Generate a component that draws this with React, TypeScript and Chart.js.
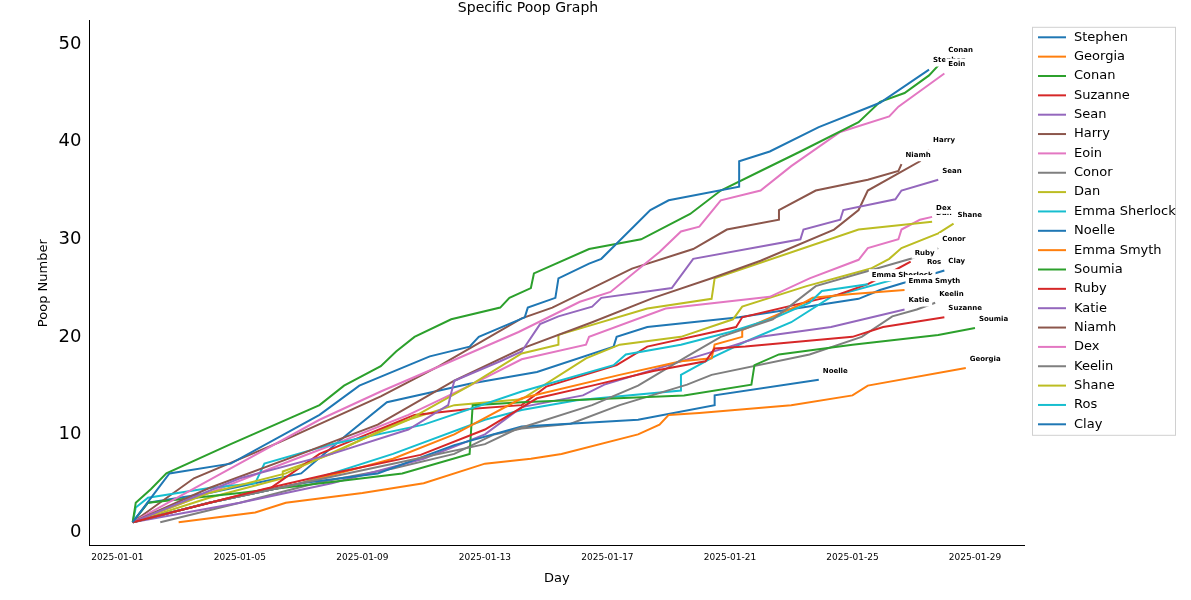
import { useEffect, useRef } from "react";
import { Chart, registerables } from "chart.js";

Chart.register(...registerables);

// [day since 2025-01-01, poop number]
const stephen = [[0.5,1],[1.7,6],[3.7,7],[6.6,12],[7.9,15],[10.2,18],[11.5,19],[11.8,20],[13.3,22],[13.4,23],[14.3,24],[14.4,26],[15.4,27.5],[15.8,28],[17.4,33],[18,34],[20.3,35.4],[20.3,38],[21.3,39],[22.9,41.5],[24.9,44],[26.5,47.4]];
const georgia = [[2,1],[4.5,2],[5.5,3],[8,4],[10,5],[12,7],[13.5,7.5],[14.5,8],[17,10],[17.7,11],[18,12],[19,12.2],[22,13],[24,14],[24.5,15],[27.7,16.8]];
const conan = [[0.5,1],[0.6,3],[1.1,4.4],[1.6,6],[3.7,9],[6.6,13],[7.4,15],[8.6,17],[9.1,18.5],[9.7,20],[10.9,21.8],[12.5,23],[12.8,24],[13.5,25],[13.6,26.5],[15.4,29],[17.1,30],[18.7,32.6],[19.7,35],[21,37],[22.3,39],[24.2,42],[24.9,44.1],[25.7,45],[26.5,46.8],[27,48.5]];
const suzanne = [[0.5,1],[4.8,4.4],[7,6],[9.9,7.9],[12,10.5],[13.7,13.7],[15.5,15],[17.5,16.5],[19.2,17.5],[19.5,18.8],[20.5,19],[24,20],[25,21],[27,22]];
const sean = [[0.5,1],[4,5.5],[7,8],[9.5,10.5],[10.8,13],[11,15.5],[12.5,17.5],[13.2,18.5],[13.8,21.3],[14.4,22.1],[15.5,23.1],[15.8,24],[18.1,25],[18.8,28],[22.3,30],[22.4,31],[23.6,32],[23.7,33],[25.4,34.1],[25.6,35],[26.8,36.1]];
const harry = [[0.5,1],[3,4.5],[6,8],[8.5,11],[11,15.5],[13.2,18.8],[15.5,21.5],[17.5,24],[19.4,26],[21,27.8],[23.4,31],[24.2,33],[24.5,35],[26.2,38],[26.5,39.2]];
const eoin = [[0.5,1],[3.4,6],[6.6,11.5],[8.6,14.4],[10.9,17.5],[13.1,20.5],[15.1,23.6],[16.1,24.6],[17.7,28.7],[18.4,30.8],[19,31.3],[19.7,34],[21,35],[22,37.5],[23.6,41],[25.2,42.6],[25.5,43.6],[27,47]];
const conor = [[0.5,1],[3,3],[6,5],[9,7],[12,9],[13,10.5],[15.5,13],[17,15],[18.6,18],[19.7,20],[21.4,21.8],[22.8,25.2],[25.9,28],[26.8,29.1]];
const dan = [[0.5,1],[3,4],[5.5,6],[8,9.5],[9.5,11.5],[11.5,15],[13.2,18.3],[14.4,19.2],[14.4,20.2],[17.3,22.9],[19.4,23.9],[19.5,26],[24.2,31],[26.6,31.8]];
const emmaSherlock = [[0.5,1],[0.6,2.5],[1,3.5],[3,4.5],[4.5,5],[4.8,7],[7,9],[10,11],[13.2,14.4],[16.2,17.1],[16.6,18.2],[18.4,19.2],[20,20.5],[21.5,22],[22.6,23.5],[23,24.7],[24.5,25.4]];
const noelle = [[0.5,1],[3,3],[6,5],[8.5,6],[11,8.9],[13.2,10.8],[17,11.5],[19.5,13],[19.5,14],[22.9,15.6]];
const emmaSmyth = [[0.5,1],[3,3],[6,5],[9,7.5],[11,10],[13.2,13.7],[16.4,16.1],[18.4,17.5],[19.4,17.8],[19.5,19.2],[20.4,20],[20.4,20.7],[22.3,23.3],[22.7,24],[24,24.4],[25.7,24.8]];
const soumia = [[0.5,1],[1,3],[4,4],[9.3,6],[11.5,8],[11.6,13],[13.2,13.3],[18.5,14],[20.7,15.1],[20.8,17.1],[21.6,18.2],[24,19.2],[26.8,20.2],[28,20.9]];
const ruby = [[0.5,1],[3,3],[5,4.5],[6.6,8],[9.7,12],[11.5,12.6],[13.2,13],[14,14.9],[16.3,17.1],[17.3,19],[20.2,21],[20.4,22],[23.5,24.3],[24.5,25.4],[25.3,26.7],[25.9,27.7]];
const katie = [[0.5,1],[4,3],[7,5],[10,7.5],[12,10],[13.2,12.8],[15.2,14],[15.9,15.1],[20.2,19.2],[21,20],[23.3,21],[25.7,22.8]];
const niamh = [[0.5,1],[2.5,5.5],[5.3,9.2],[8.6,13.9],[10.5,17],[13.2,21.9],[14.2,23],[16.8,27],[18.8,29],[19.9,31],[21.6,32],[21.6,33],[22.8,35],[24.5,36.1],[25.5,37],[25.6,37.7]];
const dex = [[0.5,1],[3,4],[5,6.5],[7.5,9.5],[9.5,12],[11.5,15],[13.2,17.7],[15.3,19.2],[15.4,20],[17.9,22.9],[21.3,24.1],[22.6,26],[24.2,27.9],[24.5,29.1],[25.5,30],[25.6,31],[26.2,32],[26.6,32.3]];
const keelin = [[1.4,1],[4,3],[6.6,5.1],[9,6.5],[11,8],[12.3,10],[13.2,10.6],[14.8,11.1],[16.4,13],[18.6,15.1],[19.4,16.1],[22.6,18.2],[24.3,20],[25.3,22.1],[26.1,22.8],[26.7,23.5]];
const shane = [[0.5,1],[3,3.5],[5.4,5.5],[5.4,6.2],[7,8],[9,11],[11,13],[13.2,13.6],[15.3,17.8],[16.4,19.2],[18.4,20],[20.1,21.8],[20.4,23.1],[22.5,25.2],[24.6,27],[25.2,28],[25.6,29.1],[26.8,30.6],[27.3,31.6]];
const ros = [[0.5,1],[3,3],[6,5],[9,8],[12,11.5],[13.2,12.5],[15,13.5],[18.4,14.5],[18.4,16.1],[19.5,18],[20.5,19.5],[22,21.5],[23.3,24.1],[26.3,26.7]];
const clay = [[0.5,1],[1,3],[3,4],[6,6],[7.5,10],[8.8,13.3],[11.5,15.2],[13.7,16.4],[16.2,19],[16.3,20],[17.3,21],[20.3,22],[24.2,23.9],[24.9,24.8],[27,26.8]];

const names = ["Stephen","Georgia","Conan","Suzanne","Sean","Harry","Eoin","Conor","Dan","Emma Sherlock","Noelle","Emma Smyth","Soumia","Ruby","Katie","Niamh","Dex","Keelin","Shane","Ros","Clay"];
const series = [stephen,georgia,conan,suzanne,sean,harry,eoin,conor,dan,emmaSherlock,noelle,emmaSmyth,soumia,ruby,katie,niamh,dex,keelin,shane,ros,clay];
const palette = ["#1f77b4","#ff7f0e","#2ca02c","#d62728","#9467bd","#8c564b","#e377c2","#7f7f7f","#bcbd22","#17becf"];
const xTicks = [0, 4, 8, 12, 16, 20, 24, 28];

const fmtDay = (d: number) => {
  const dt = new Date(Date.UTC(2025, 0, 1 + d));
  return dt.toISOString().slice(0, 10);
};

const endLabels = {
  id: "endLabels",
  afterDatasetsDraw(chart: any) {
    const ctx = chart.ctx;
    ctx.save();
    ctx.font = "bold 7px 'DejaVu Sans'";
    ctx.textBaseline = "middle";
    chart.data.datasets.forEach((ds: any, i: number) => {
      const meta = chart.getDatasetMeta(i);
      const p = meta.data[meta.data.length - 1];
      const x = p.x + 4;
      const y = p.y - 9;
      const w = ctx.measureText(ds.label).width;
      ctx.fillStyle = "#fff";
      ctx.fillRect(x - 3, y - 6, w + 6, 12);
      ctx.fillStyle = "#000";
      ctx.fillText(ds.label, x, y);
    });
    ctx.restore();
  },
};

// matplotlib-style legend box to the right of the plot
const sideLegend = {
  id: "sideLegend",
  afterDraw(chart: any) {
    const ctx = chart.ctx;
    const left = chart.chartArea.right + 8;
    const top = chart.chartArea.top + 6;
    const step = 19.35;
    ctx.save();
    ctx.fillStyle = "#fff";
    ctx.strokeStyle = "#d0d0d0";
    ctx.lineWidth = 1;
    ctx.fillRect(left, top, 143, 408);
    ctx.strokeRect(left + 0.5, top + 0.5, 143, 408);
    ctx.font = "13px 'DejaVu Sans'";
    ctx.textBaseline = "middle";
    chart.data.datasets.forEach((ds: any, i: number) => {
      const y = top + 10.5 + step * i;
      ctx.strokeStyle = ds.borderColor;
      ctx.lineWidth = 2;
      ctx.beginPath();
      ctx.moveTo(left + 6, y);
      ctx.lineTo(left + 34, y);
      ctx.stroke();
      ctx.fillStyle = "#000";
      ctx.fillText(ds.label, left + 42, y);
    });
    ctx.restore();
  },
};

export default function App() {
  const ref = useRef<HTMLCanvasElement>(null);
  useEffect(() => {
    document.body.style.margin = "0";
    const chart = new Chart(ref.current!, {
      type: "line",
      data: {
        datasets: series.map((s, i) => ({
          label: names[i],
          data: s.map(([x, y]) => ({ x, y })),
          borderColor: palette[i % 10],
          backgroundColor: palette[i % 10],
          borderWidth: 2,
          pointRadius: 0,
          tension: 0,
        })),
      },
      options: {
        animation: false,
        responsive: false,
        layout: { padding: { left: 32, right: 167, top: 0, bottom: 10 } },
        plugins: {
          title: { display: true, text: "Specific Poop Graph", color: "#000", font: { family: "DejaVu Sans", size: 14, weight: "normal" }, padding: { top: 0, bottom: 4 } },
          legend: { display: false },
          tooltip: { enabled: false },
        },
        scales: {
          x: {
            type: "linear",
            min: -0.91,
            max: 29.6,
            afterBuildTicks: (ax: any) => { ax.ticks = xTicks.map((v) => ({ value: v })); },
            ticks: { color: "#000", font: { family: "DejaVu Sans", size: 9 }, maxRotation: 0, callback: (v: any) => fmtDay(Number(v)) },
            grid: { display: false, drawTicks: true, tickLength: 4 },
            border: { color: "#000" },
            title: { display: true, text: "Day", color: "#000", font: { family: "DejaVu Sans", size: 13 } },
          },
          y: {
            min: -1.4,
            max: 52.4,
            afterBuildTicks: (ax: any) => { ax.ticks = [0, 10, 20, 30, 40, 50].map((v) => ({ value: v })); },
            ticks: { color: "#000", font: { family: "DejaVu Sans", size: 18 } },
            grid: { display: false, tickLength: 5 },
            border: { color: "#000" },
            title: { display: true, text: "Poop Number", color: "#000", font: { family: "DejaVu Sans", size: 13 } },
          },
        },
      },
      plugins: [endLabels, sideLegend],
    });
    return () => chart.destroy();
  }, []);
  return <canvas ref={ref} width={1191} height={600} style={{ display: "block" }} />;
}
